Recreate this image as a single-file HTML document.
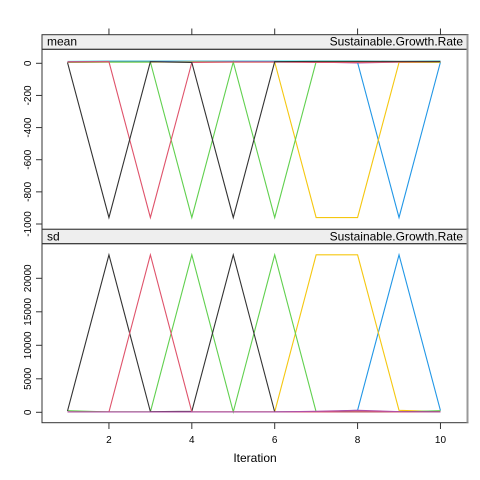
<!DOCTYPE html>
<html><head><meta charset="utf-8"><style>
body{margin:0;background:#fff}
svg{display:block;font-family:"Liberation Sans",Arial,sans-serif}
</style></head><body>
<svg id="chart" width="480" height="480">
<rect x="0" y="0" width="480" height="480" fill="#fff"/>
<g id="g"></g>
</svg>
<script>
const iterations=[1,2,3,4,5,6,7,8,9,10];
const meanBlack=[5,-960,10,5,-960,10,12,12,12,12];
const meanRed=[8,10,-960,5,8,8,5,5,8,10];
const meanGreen=[5,8,8,-960,8,-960,10,8,8,8];
const meanYellow=[5,8,8,8,8,8,-960,-960,5,5];
const meanBlue=[8,10,10,10,10,10,10,5,-960,8];
const meanCyan=[12,14,14,14,14,14,14,14,12,14];
const meanMagenta=[10,12,12,12,12,12,8,2,8,10];
const sdBlack=[200,23500,100,150,23500,50,80,80,80,80];
const sdRed=[50,50,23500,60,60,60,60,80,60,60];
const sdGreen=[250,60,60,23500,60,23500,60,60,60,250];
const sdYellow=[60,60,60,60,60,60,23500,23500,300,100];
const sdBlue=[60,60,60,60,60,60,60,300,23500,250];
const sdMagenta=[60,60,60,60,60,60,150,300,100,60];
const xTicks=[2,4,6,8,10];
const meanTicks=[0,-200,-400,-600,-800,-1000];
const sdTicks=[0,5000,10000,15000,20000];
const colors={black:"#333",red:"#DF536B",green:"#61D04F",yellow:"#F5C710",blue:"#2297E6",cyan:"#28E2E5",magenta:"#B04FA8"};

const NS="http://www.w3.org/2000/svg";
const g=document.getElementById('g');
function el(t,a,txt){const e=document.createElementNS(NS,t);for(const k in a)e.setAttribute(k,a[k]);if(txt!==undefined)e.textContent=txt;g.appendChild(e);return e;}
const xs=v=>67.5+(v-1)*41.44;
const ym=v=>63.3-v*0.1607;
const ys=v=>412.3-v*0.0067;

function panel(top,stripLabel,plotTop,plotBot,ticks,yf,series,name){
  const s=el('rect',{x:42,y:top,width:426,height:plotTop-top,fill:'#eeeeee',stroke:'#333','stroke-width':1});
  
  
  let t=el('text',{x:47,y:top+11,'font-size':12,fill:'#000'},stripLabel);
  
  
  t=el('text',{x:463,y:top+11,'font-size':12,fill:'#000','text-anchor':'end'},'Sustainable.Growth.Rate');
  
  
  const r=el('rect',{x:42,y:plotTop,width:426,height:plotBot-plotTop,fill:'none',stroke:'#333','stroke-width':1});
  
  
  ticks.forEach(v=>{
    const y=yf(v);
    const tk=el('line',{x1:36,x2:42,y1:y,y2:y,stroke:'#333'});
    
    
    const lb=el('text',{x:0,y:0,'font-size':10,'text-anchor':'middle',transform:`translate(31,${y}) rotate(-90)`,fill:'#000'},String(v));
    
    
  });
  series.forEach(([vals,col,nm])=>{
    const p=el('polyline',{points:vals.map((v,i)=>xs(iterations[i])+','+yf(v)).join(' '),fill:'none',stroke:colors[col],'stroke-width':1.1});
    
    
  });
  const gl=el('line',{x1:467.5,x2:467.5,y1:top,y2:plotBot,stroke:'#999','stroke-width':2});
  
  
}
panel(34.7,'mean',49.3,229.3,meanTicks,ym,[[meanCyan,'cyan','cyan'],[meanMagenta,'magenta','magenta'],[meanBlue,'blue','blue'],[meanYellow,'yellow','yellow'],[meanGreen,'green','green'],[meanRed,'red','red'],[meanBlack,'black','black']],'mean');
panel(229.3,'sd',243.7,422.7,sdTicks,ys,[[sdBlue,'blue','blue'],[sdYellow,'yellow','yellow'],[sdGreen,'green','green'],[sdBlack,'black','black'],[sdRed,'red','red'],[sdMagenta,'magenta','magenta']],'sd');
xTicks.forEach(v=>{
  const x=xs(v);
  let l=el('line',{x1:x,x2:x,y1:28.5,y2:34.7,stroke:'#333'});
  
  
  l=el('line',{x1:x,x2:x,y1:422.7,y2:429,stroke:'#333'});
  
  
  const t=el('text',{x:x,y:443,'font-size':10,'text-anchor':'middle',fill:'#000'},String(v));
  
  
});
const xt=el('text',{x:255,y:462,'font-size':12,'text-anchor':'middle',fill:'#000'},'Iteration');


</script>
</body></html>
